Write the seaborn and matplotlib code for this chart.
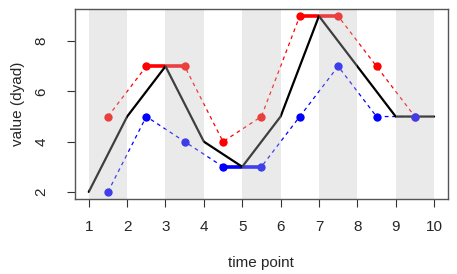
import matplotlib
matplotlib.use("Agg")
import matplotlib.pyplot as plt
import numpy as np
import pandas as pd
import seaborn as sns

# dyad series at integer time points
time = [1, 2, 3, 4, 5, 6, 7, 8, 9, 10]
dyad = [2, 5, 7, 4, 3, 5, 9, 7, 5, 5]

# individual series at half time points
half_time = [1.5, 2.5, 3.5, 4.5, 5.5, 6.5, 7.5, 8.5, 9.5]
red_vals = [5, 7, 7, 4, 5, 9, 9, 7, 5]
blue_vals = [2, 5, 4, 3, 3, 5, 7, 5, 5]

# pairs of half points joined with a thick segment
red_thick = [(2.5, 3.5), (6.5, 7.5)]
blue_thick = [(4.5, 5.5)]

# shaded intervals
bands = [(1, 2), (3, 4), (5, 6), (7, 8), (9, 10)]

sns.set_style("white")
plt.rcParams['font.family'] = ['Liberation Sans', 'DejaVu Sans']

fig = plt.figure(figsize=(4.57, 2.74), dpi=100)
ax = fig.add_axes([0.164, 0.274, 0.816, 0.693])

df_red = pd.DataFrame({'t': half_time, 'v': red_vals})
df_blue = pd.DataFrame({'t': half_time, 'v': blue_vals})
df_dyad = pd.DataFrame({'t': time, 'v': dyad})

red = '#FF0000'
blue = '#0000FF'

sns.lineplot(data=df_red, x='t', y='v', ax=ax, color=red, lw=0.9,
             sort=False, zorder=2).lines[-1].set_dashes((3, 3))
sns.lineplot(data=df_blue, x='t', y='v', ax=ax, color=blue, lw=0.9,
             sort=False, zorder=2).lines[-1].set_dashes((3, 3))

def thick(df, pairs, color):
    for a, b in pairs:
        seg = df[(df['t'] >= a) & (df['t'] <= b)]
        sns.lineplot(data=seg, x='t', y='v', ax=ax, color=color, lw=2.6,
                     sort=False, zorder=3)

thick(df_red, red_thick, red)
thick(df_blue, blue_thick, blue)

sns.lineplot(data=df_dyad, x='t', y='v', ax=ax, color='black', lw=1.6,
             sort=False, zorder=4)

sns.scatterplot(data=df_red, x='t', y='v', ax=ax, color=red, s=36,
                linewidth=0, zorder=5)
sns.scatterplot(data=df_blue, x='t', y='v', ax=ax, color=blue, s=36,
                linewidth=0, zorder=6)

# translucent gray bands drawn over everything
for a, b in bands:
    ax.axvspan(a, b, color=(0.76, 0.76, 0.76), alpha=0.33, lw=0, zorder=10)

ax.set_xlim(0.64, 10.36)
ax.set_ylim(1.72, 9.28)
ax.set_xticks(time)
ax.set_yticks([2, 4, 6, 8])
ax.set_yticklabels(['2', '4', '6', '8'], rotation=90, va='center')
ax.tick_params(axis='both', which='both', direction='out', length=6,
               width=0.8, color='#333333', labelsize=11,
               left=True, bottom=True)
ax.tick_params(axis='x', pad=9)
ax.tick_params(axis='y', pad=13)
ax.set_xlabel('time point', fontsize=11, labelpad=16)
ax.set_ylabel('value (dyad)', fontsize=11, labelpad=7)
for sp in ax.spines.values():
    sp.set_color('#555555')
    sp.set_linewidth(1.0)
    sp.set_zorder(20)

plt.savefig('out.png', dpi=100)
